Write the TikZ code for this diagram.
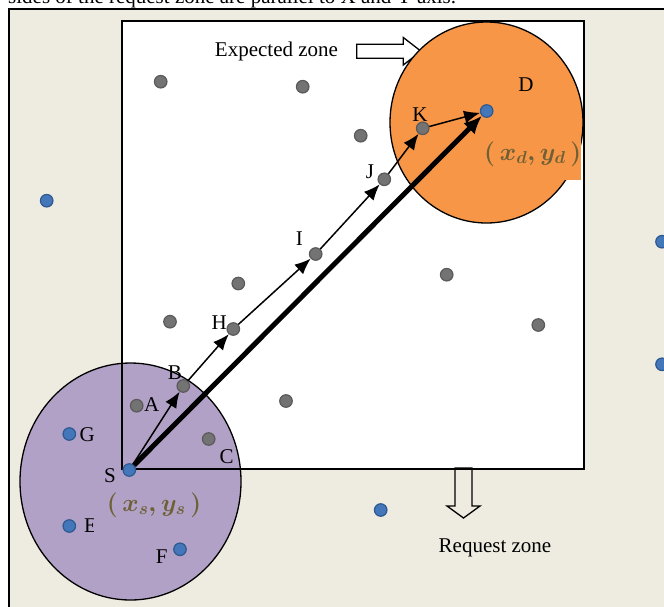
\documentclass[tikz,border=0pt]{standalone}
\usepackage{fontspec}
\setmainfont{Liberation Serif}
\usepackage{tikz}
\usetikzlibrary{arrows.meta}
\definecolor{Tan}{HTML}{EEECE1}
\definecolor{Lilac}{HTML}{B2A1C7}
\definecolor{Orange}{HTML}{F79646}
\definecolor{RelayGray}{HTML}{737373}
\definecolor{RimGray}{HTML}{5A5A5A}
\definecolor{HostBlue}{HTML}{4477BA}
\definecolor{RimBlue}{HTML}{2D5890}
\definecolor{Coord}{HTML}{6E6036}
\tikzset{
 zone/.style={line width=1.3pt},
 relay/.style={circle,fill=RelayGray,draw=RimGray,line width=1.2pt,minimum size=12.5pt,inner sep=0pt},
 host/.style={relay,fill=HostBlue,draw=RimBlue},
 tag/.style={font=\fontsize{21}{24}\selectfont,inner sep=0pt},
 coord/.style={font=\fontsize{25}{28}\selectfont\boldmath,text=Coord,inner sep=0pt},
 hop/.style={-{Latex[length=16pt,width=13pt]},line width=1.5pt},
 direct/.style={-{Latex[length=18pt,width=16pt]},line width=5pt},
 hollow/.style={draw,line width=1.3pt,line join=miter}
}
\begin{document}
\begin{tikzpicture}[x=1pt,y=-1pt]
\useasboundingbox (0,0) rectangle (664,606);
% line of the page above, cut off
\node[tag,anchor=base west] (caption) at (8,3) {sides of the request zone are parallel to X and Y axis.};
% network area
\fill[Tan] (9,9) rectangle (672,612);
\draw[zone] (9,612) |- (672,9);
\fill[white] (122,21) rectangle (584,469);
\draw[hollow,fill=white] (356.7,44.2) -- (403.3,44.2) -- (403.3,37.5) -- (421,51.2)
  -- (403.3,65) -- (403.3,58.2) -- (356.7,58.2) -- cycle;
% source and destination zones
\draw[zone,fill=Lilac] (130.5,481.5) ellipse [x radius=110.5,y radius=118.5];
\draw[zone,fill=Orange] (486.5,122.5) ellipse [x radius=96.5,y radius=100.5];
\draw[zone] (122,21) rectangle (584,469);
\draw[hollow] (455,468) -- (455,506) -- (447,506) -- (463.5,518) -- (480,506)
  -- (472,506) -- (472,468) -- cycle;
% nodes
\node[host] (S) at (129.3,470) {};
\node[host] (D) at (486.7,111) {};
\node[host] (G) at (69.3,434) {};
\node[host] (E) at (69.3,526) {};
\node[host] (F) at (180,549.3) {};
\node[host] (h1) at (46.7,200.7) {};
\node[host] (h2) at (662,241.7) {};
\node[host] (h3) at (662,364.3) {};
\node[host] (h4) at (380.7,510) {};
\node[relay] (A) at (136.7,405.7) {};
\node[relay] (B) at (183.3,386) {};
\node[relay] (C) at (208.7,439) {};
\node[relay] (H) at (233.3,329) {};
\node[relay] (I) at (315.7,254) {};
\node[relay] (J) at (384.3,179.3) {};
\node[relay] (K) at (422.7,128.3) {};
\node[relay] (r1) at (160.7,81.7) {};
\node[relay] (r2) at (302.7,86.7) {};
\node[relay] (r3) at (360.7,135.7) {};
\node[relay] (r4) at (238.3,283.5) {};
\node[relay] (r5) at (170,321.7) {};
\node[relay] (r6) at (286,401) {};
\node[relay] (r7) at (446.7,274.7) {};
\node[relay] (r8) at (538.3,325) {};
% route
\draw[direct] (S) -- (D);
\draw[hop] (S) -- (B);
\draw[hop] (B) -- (H);
\draw[hop] (H) -- (I);
\draw[hop] (I) -- (J);
\draw[hop] (J) -- (K);
\draw[hop] (K) -- (D);
% labels
\node[tag] (la) at (151.7,405) {A};
\node[tag] (lb) at (175,372.7) {B};
\node[tag] (lc) at (226.7,456.7) {C};
\node[tag] (ld) at (526,85) {D};
\node[tag] (lf) at (161.7,556.7) {F};
\node[tag] (lg) at (87.3,435) {G};
\node[tag] (lh) at (219.3,322.7) {H};
\node[tag] (li) at (299.3,238.3) {I};
\node[tag] (lj) at (370,171.7) {J};
\node[tag] (lk) at (420,115) {K};
\node[tag] (ls) at (110,476) {S};
\begin{scope}
\clip (80,510) rectangle (93,540);
\node[tag] (le) at (90.5,526) {E};
\end{scope}
\node[coord] (sxy) at (154,505) {$(\,x_{s},y_{s}\,)$};
\node[coord,fill=Orange,minimum width=93pt,text height=20pt,text depth=17pt,
  inner ysep=3pt,anchor=north west] (dxy) at (484,137) {$(\,x_{d},y_{d}\,)$};
\node[tag] (expected) at (276.5,51) {Expected zone};
\node[tag] (request) at (495,548) {Request zone};
\end{tikzpicture}
\end{document}
